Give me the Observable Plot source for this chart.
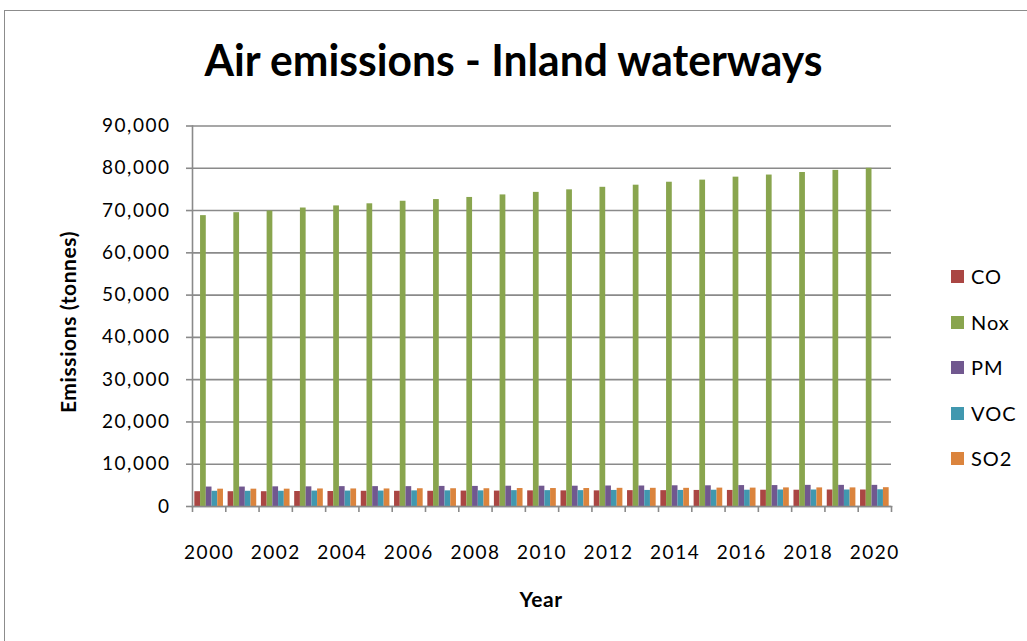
<!DOCTYPE html>
<html>
<head>
<meta charset="utf-8">
<script src="https://cdn.jsdelivr.net/npm/d3@7"></script>
<script src="https://cdn.jsdelivr.net/npm/@observablehq/plot@0.6"></script>
<style>
  html, body { margin: 0; padding: 0; background: #fff; }
  #wrap { position: relative; width: 1027px; height: 641px; overflow: hidden; font-family: Lato, "Open Sans", sans-serif; color: #000; }
  #border { position: absolute; left: 4px; top: 10px; width: 1100px; height: 700px; border: 1.5px solid #8c8c8c; box-sizing: border-box; }
  #title { position: absolute; left: 0; top: 37px; width: 1027px; text-align: center; font-size: 44px; font-weight: 700; line-height: 1; white-space: nowrap; }
  #title span { display: inline-block; transform-origin: center; }
  #ytitle { position: absolute; left: 67px; top: 322px; transform: translate(-50%, -50%) rotate(-90deg); font-size: 21px; font-weight: 700; letter-spacing: 0.6px; white-space: nowrap; }
  #xtitle { position: absolute; left: 541px; top: 598px; transform: translate(-50%, -50%); font-size: 21px; font-weight: 700; letter-spacing: 0.5px; white-space: nowrap; }
  #chart { position: absolute; left: 0; top: 100px; }
  #legend { position: absolute; left: 951px; top: 266px; }
  .li { position: relative; height: 45.6px; display: flex; align-items: flex-start; }
  .sw { width: 13px; height: 13px; margin-top: 4px; }
  .lt { margin-left: 7px; font-size: 20px; letter-spacing: 1px; line-height: 21px; }
  svg text { letter-spacing: 1.5px; }
</style>
</head>
<body>
<div id="wrap">
  <div id="border"></div>
  <div id="title"><span>Air emissions - Inland waterways</span></div>
  <div id="ytitle">Emissions (tonnes)</div>
  <div id="xtitle">Year</div>
  <div id="chart"></div>
  <div id="legend"></div>
</div>
<script>
// ---- data ----
const years = [2000, 2001, 2002, 2003, 2004, 2005, 2006, 2007, 2008, 2009, 2010,
               2011, 2012, 2013, 2014, 2015, 2016, 2017, 2018, 2019, 2020];
const pollutants = ["CO", "Nox", "PM", "VOC", "SO2"];
const co  = [3500, 3500, 3500, 3550, 3550, 3600, 3600, 3600, 3650, 3650, 3700,
             3700, 3700, 3750, 3750, 3800, 3800, 3850, 3850, 3900, 3900];
const nox = [68800, 69500, 69900, 70600, 71100, 71600, 72200, 72600, 73100, 73700, 74300,
             74900, 75500, 76000, 76700, 77200, 77900, 78400, 79000, 79500, 80000];
const pm  = [4600, 4600, 4650, 4650, 4700, 4700, 4700, 4750, 4750, 4800, 4800,
             4800, 4850, 4850, 4900, 4900, 4950, 4950, 5000, 5000, 5000];
const voc = [3600, 3600, 3600, 3650, 3650, 3650, 3700, 3700, 3700, 3750, 3750,
             3750, 3800, 3800, 3800, 3850, 3850, 3900, 3900, 3900, 3950];
const so2 = [4100, 4100, 4100, 4150, 4150, 4150, 4200, 4200, 4200, 4250, 4250,
             4250, 4300, 4300, 4300, 4350, 4350, 4400, 4400, 4400, 4450];
const yTicks = [0, 10000, 20000, 30000, 40000, 50000, 60000, 70000, 80000, 90000];
const xLabelYears = [2000, 2002, 2004, 2006, 2008, 2010, 2012, 2014, 2016, 2018, 2020];
const colors = ["#AA4643", "#89A54E", "#71588F", "#4198AF", "#DB843D"];

// ---- build table ----
const series = [co, nox, pm, voc, so2];
const data = years.flatMap((yr, i) => pollutants.map((p, k) => ({year: yr, pollutant: p, k, value: series[k][i]})));
const groupW = 0.86;                 // share of a year occupied by one group
const barW = groupW / pollutants.length;
const boundaries = years.map(y => y - 0.5).concat([years[years.length - 1] + 0.5]);

const chart = Plot.plot({
  width: 1027,
  height: 541,
  marginLeft: 192,
  marginRight: 136,
  marginTop: 25.5,
  marginBottom: 135,
  style: {fontFamily: "Lato, 'Open Sans', sans-serif", fontSize: "19px", color: "#000", background: "transparent"},
  x: {type: "linear", domain: [years[0] - 0.5, years[years.length - 1] + 0.5]},
  y: {domain: [0, 90000]},
  color: {domain: pollutants, range: colors},
  marks: [
    Plot.gridY({ticks: yTicks, stroke: "#8a8a8a", strokeOpacity: 1, strokeWidth: 1.6}),
    Plot.rect(data, {
      x1: d => d.year - groupW / 2 + d.k * barW,
      x2: d => d.year - groupW / 2 + (d.k + 1) * barW,
      y1: 0,
      y2: "value",
      fill: "pollutant"
    }),
    Plot.frame({anchor: "left", stroke: "#8a8a8a", strokeWidth: 1.6}),
    Plot.frame({anchor: "bottom", stroke: "#8a8a8a", strokeWidth: 1.6}),
    Plot.axisY({ticks: yTicks, tickFormat: d3.format(","), tickSize: 6, tickPadding: 16, stroke: "#8a8a8a", strokeWidth: 1.6, fill: "#000", label: null}),
    Plot.axisX({ticks: boundaries, tickFormat: () => "", tickSize: 6, stroke: "#8a8a8a", strokeWidth: 1.6, label: null}),
    Plot.axisX({ticks: xLabelYears, tickFormat: d => String(d), tickSize: 0, tickPadding: 39, fill: "#000", label: null})
  ]
});
document.getElementById("chart").appendChild(chart);

// legend
const legend = document.getElementById("legend");
pollutants.forEach((p, k) => {
  const row = document.createElement("div");
  row.className = "li";
  row.innerHTML = `<div class="sw" style="background:${colors[k]}"></div><div class="lt">${p}</div>`;
  legend.appendChild(row);
});

// title width fit (Calibri-like narrowness)
const ts = document.querySelector("#title span");
const w = ts.getBoundingClientRect().width;
ts.style.transform = `scaleX(${618 / w})`;
</script>
</body>
</html>
